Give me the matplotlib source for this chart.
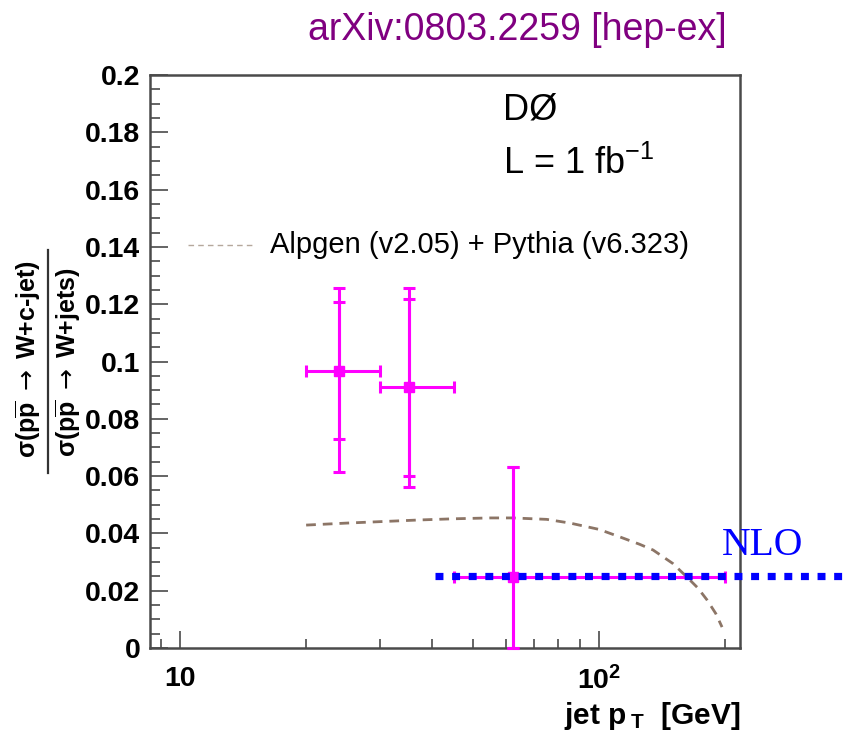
#!/usr/bin/env python
import numpy as np
import matplotlib
matplotlib.use("Agg")
import matplotlib.pyplot as plt
from matplotlib.lines import Line2D
from matplotlib.ticker import FixedLocator, NullFormatter, MultipleLocator

plt.rcParams["font.family"] = ["Liberation Sans", "DejaVu Sans"]
plt.rcParams["mathtext.fontset"] = "custom"
plt.rcParams["mathtext.rm"] = "Liberation Sans"
plt.rcParams["mathtext.bf"] = "Liberation Sans:bold"
plt.rcParams["mathtext.it"] = "Liberation Sans:italic"
plt.rcParams["mathtext.sf"] = "DejaVu Sans"

# data points: ratio W+c-jet / W+jets vs jet pT
pt_center = [24.0, 35.2, 62.2]
pt_low = [20.0, 30.0, 45.0]
pt_high = [30.0, 45.0, 200.0]
ratio = [0.0968, 0.0910, 0.0249]
stat_up = [0.1208, 0.1218, 0.0632]
stat_down = [0.0729, 0.0600, 0.0]
tot_up = [0.1257, 0.1257, 0.0632]
tot_down = [0.0614, 0.0562, 0.0]

# Alpgen + Pythia prediction
mc_pt = [20, 25, 30, 37.4, 45, 55, 62.3, 75, 85.3, 100, 112, 125, 134.6,
         150, 162, 172, 181, 190, 196.6]
mc_ratio = [0.0429, 0.0436, 0.0441, 0.0447, 0.0451, 0.0454, 0.0454, 0.0449,
            0.0436, 0.0414, 0.0388, 0.0362, 0.0342, 0.0295, 0.0248, 0.0210,
            0.0168, 0.0120, 0.0073]

# NLO value
nlo_pt = [40.5, 400.0]
nlo_ratio = [0.0252, 0.0252]

W, H = 844, 738
fig = plt.figure(figsize=(W / 100, H / 100), dpi=100)
ax = fig.add_axes([150 / W, 1 - 648 / H, 590 / W, 573 / H])

magenta = "#ff00ff"
x = np.array(pt_center)
y = np.array(ratio)
xerr = [x - np.array(pt_low), np.array(pt_high) - x]

# total errors
ax.errorbar(x, y, yerr=[y - np.array(tot_down), np.array(tot_up) - y],
            fmt="none", ecolor=magenta, elinewidth=2.2, capsize=4,
            capthick=2.2, zorder=3, clip_on=False)
# statistical errors + x bins
ax.errorbar(x, y, yerr=[y - np.array(stat_down), np.array(stat_up) - y],
            xerr=xerr, fmt="s", color=magenta, ms=7, elinewidth=2.2,
            capsize=4, capthick=2.2, zorder=4, clip_on=False)

ax.plot(mc_pt, mc_ratio, color="#8c7566", lw=2.0, dashes=(3.5, 2.5), zorder=2)

nlo, = ax.plot(nlo_pt, nlo_ratio, color="#0000ff", lw=5.2, zorder=5,
               clip_on=False, solid_capstyle="butt", dash_capstyle="butt")
nlo.set_dashes((1.1, 1.2))

ax.set_xscale("log")
ax.set_xlim(8.48, 217)
ax.set_ylim(0, 0.2)

ax.xaxis.set_major_locator(FixedLocator([10, 100]))
ax.xaxis.set_minor_locator(FixedLocator([9, 20, 30, 40, 50, 60, 70, 80, 90, 200]))
ax.xaxis.set_minor_formatter(NullFormatter())
ax.set_xticklabels(["10", r"$\mathbf{10^{2}}$"])

ax.yaxis.set_minor_locator(MultipleLocator(0.005))
ax.set_yticks(np.arange(0, 0.2001, 0.02))
ax.set_yticklabels(["0", "0.02", "0.04", "0.06", "0.08", "0.1", "0.12",
                    "0.14", "0.16", "0.18", "0.2"])

axis_col = "#4a4a4a"
for s in ax.spines.values():
    s.set_color(axis_col)
    s.set_linewidth(1.8)
ax.tick_params(which="both", direction="in", color=axis_col, width=1.2,
               labelsize=20.5)
ax.tick_params(axis="y", which="major", length=13, pad=7)
ax.tick_params(axis="y", which="minor", length=7)
ax.tick_params(axis="x", which="major", length=12, pad=13)
ax.tick_params(axis="x", which="minor", length=6.5)
for lab in ax.get_xticklabels() + ax.get_yticklabels():
    lab.set_fontweight("bold")

# axis titles
fig.text(740 / W, 1 - 724 / H, r"jet p$\,_{\mathbf{T}}$  [GeV]", ha="right",
         va="baseline", fontsize=21.5, fontweight="bold")

fig.text(28 / W, 1 - 359 / H, r"σ(p$\overline{\mathbf{p}}$ $\mathsf{\rightarrow}$ W+c-jet)",
         rotation=90, ha="center", va="center", fontsize=18,
         fontweight="bold")
fig.text(68 / W, 1 - 362 / H, r"σ(p$\overline{\mathbf{p}}$ $\mathsf{\rightarrow}$ W+jets)",
         rotation=90, ha="center", va="center", fontsize=18,
         fontweight="bold")
fig.add_artist(Line2D([48 / W, 48 / W], [1 - 250 / H, 1 - 473 / H],
                      transform=fig.transFigure, color="#333333", lw=1.6))

# labels inside the frame
fig.text(503 / W, 1 - 120 / H, "DØ", fontsize=26, va="baseline")
fig.text(503 / W, 1 - 174 / H, r"L = 1 fb$^{\mathregular{-1}}$", fontsize=26,
         va="baseline")

fig.add_artist(Line2D([188 / W, 255 / W], [1 - 245 / H, 1 - 245 / H],
                      transform=fig.transFigure, color="#b5a89c", lw=1.0,
                      dashes=(4, 3)))
fig.text(270 / W, 1 - 245 / H, "Alpgen (v2.05) + Pythia (v6.323)",
         fontsize=21, va="center")

fig.text(722 / W, 1 - 555 / H, "NLO", color="#0000ff", fontsize=28.5,
         family="Liberation Serif", va="baseline")

fig.text(517 / W, 1 - 30 / H, "arXiv:0803.2259 [hep-ex]", color="#800080",
         fontsize=27, ha="center", va="center")

fig.savefig("out.png", dpi=100)
plt.close(fig)
